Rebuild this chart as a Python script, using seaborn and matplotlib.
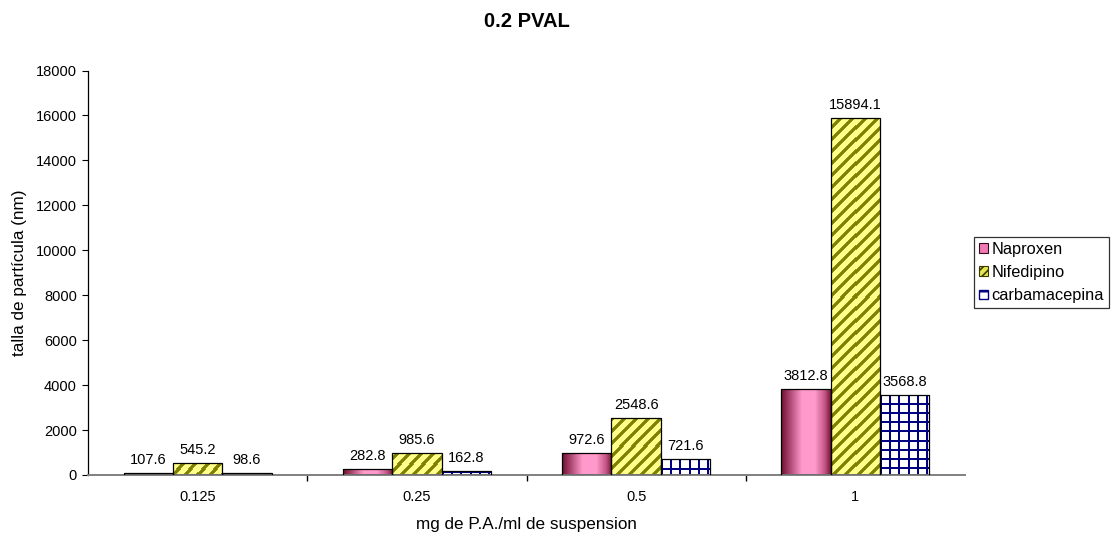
import numpy as np
import pandas as pd
import matplotlib
matplotlib.use("Agg")
import matplotlib.pyplot as plt
from matplotlib.patches import Rectangle
from matplotlib.colors import to_rgb
import seaborn as sns

# Particle size per concentration and drug
concentrations = ["0.125", "0.25", "0.5", "1"]
naproxen = [107.6, 282.8, 972.6, 3812.8]
nifedipino = [545.2, 985.6, 2548.6, 15894.1]
carbamacepina = [98.6, 162.8, 721.6, 3568.8]
series_names = ["Naproxen", "Nifedipino", "carbamacepina"]
y_ticks = [0, 2000, 4000, 6000, 8000, 10000, 12000, 14000, 16000, 18000]

df = pd.DataFrame({
    "conc": concentrations * 3,
    "size": naproxen + nifedipino + carbamacepina,
    "drug": [s for s in series_names for _ in concentrations],
})

sns.set_style("white")
plt.rcParams["font.family"] = ["Liberation Sans", "DejaVu Sans"]
plt.rcParams["hatch.linewidth"] = 1.2
for key in ["text.color", "axes.labelcolor", "xtick.color", "ytick.color"]:
    plt.rcParams[key] = "black"

W, H = 1115, 533
fig = plt.figure(figsize=(W / 100, H / 100), dpi=100)
ax = fig.add_axes([88 / W, 1 - 475 / H, 877 / W, 404.5 / H])

palette = {"Naproxen": "#FF99CC", "Nifedipino": "#FFFF99", "carbamacepina": "#FFFFFF"}
sns.barplot(data=df, x="conc", y="size", hue="drug", order=concentrations,
            hue_order=series_names, palette=palette, width=0.675,
            saturation=1, errorbar=None, legend=False, ax=ax, zorder=2)

ax.set_xlim(-0.5, 3.5)
ax.set_ylim(0, 18000)


def rgb(c):
    return np.array(to_rgb(c))


def cylinder(u):
    """Horizontal shading for the Naproxen bars (u runs 0..1 across the bar)."""
    stops = [0.0, 0.15, 0.42, 0.68, 0.88, 1.0]
    cols = [rgb(c) for c in ["#6A0E2E", "#A33C66", "#FF99CC", "#FF99CC", "#C25484", "#70142F"]]
    out = np.zeros(u.shape + (3,))
    for k in range(3):
        out[..., k] = np.interp(u, stops, [c[k] for c in cols])
    return out


def bar_pixels(p):
    bb = p.get_window_extent()
    x0, x1 = int(round(bb.x0)), int(round(bb.x1))
    y0, y1 = int(round(bb.y0)), int(round(bb.y1))
    return x0, max(x1, x0 + 1), y0, max(y1, y0 + 1)


olive, yellow, navy = rgb("#808000"), rgb("#FFFF8C"), rgb("#000080")
patches = [p for p in ax.patches if isinstance(p, Rectangle)]
n = len(concentrations)
values = naproxen + nifedipino + carbamacepina
for i, p in enumerate(patches[:3 * n]):
    s = i // n
    x0d, w, h = p.get_x(), p.get_width(), p.get_height()
    px0, px1, py0, py1 = bar_pixels(p)
    cols = np.arange(px0, px1) + 0.5
    rows = (H - np.arange(py1, py0, -1)) + 0.5  # image rows from the top
    X, R = np.meshgrid(cols, rows)
    if s == 0:
        tex = cylinder((X - px0) / max(px1 - px0, 1))
    elif s == 1:
        period = 12.0
        phase = ((X + R) % period) / period
        f = 0.5 + 0.5 * np.cos(2 * np.pi * phase)
        d = np.clip((f - 0.5) / 0.3, 0, 1)[..., None]
        tex = yellow * (1 - d) + olive * d
    else:
        period = 9
        gx = ((X - px0).astype(int) % period) < 2
        gy = ((py1 - (H - R)).astype(int) % period) < 2
        line = (gx | gy)[..., None]
        tex = np.where(line, navy, np.ones(3))
    p.set_facecolor("none")
    p.set_edgecolor("none")
    im = ax.imshow(tex, extent=(x0d, x0d + w, 0, h), aspect="auto",
                   interpolation="nearest", zorder=1.9)
    im.set_clip_path(p)
    ax.add_patch(Rectangle((x0d, 0), w, h, fill=False, edgecolor="black",
                           linewidth=0.9, zorder=3))
    ax.annotate(f"{values[i]:.1f}", xy=(x0d + w / 2, h), xytext=(0, 6.5),
                textcoords="offset points", ha="center", va="baseline",
                fontsize=10.5, color="black", zorder=4)

ax.set_xlim(-0.5, 3.5)
ax.set_ylim(0, 18000)

ax.set_yticks(y_ticks)
ax.set_yticklabels([str(t) for t in y_ticks], fontsize=10.5)
ax.tick_params(axis="y", direction="out", length=4, width=0.8, left=True, pad=4)
ax.tick_params(axis="x", which="major", length=0, labelsize=10.5, pad=11)
ax.set_xticks([0.5, 1.5, 2.5], minor=True)
ax.tick_params(axis="x", which="minor", direction="out", length=4.5, width=1.0,
               bottom=True, color="black")

for side in ["top", "right"]:
    ax.spines[side].set_visible(False)
ax.spines["left"].set_color("black")
ax.spines["left"].set_linewidth(0.9)
ax.spines["bottom"].set_color("#808080")
ax.spines["bottom"].set_linewidth(1.4)

ax.set_xlabel("mg de P.A./ml de suspension", fontsize=12.3, labelpad=9)
ax.set_ylabel("talla de partícula (nm)", fontsize=12.3, labelpad=6)
fig.text((88 + 965) / 2 / W, 1 - 27 / H, "0.2 PVAL", ha="center", va="baseline",
         fontsize=14.5, fontweight="bold")

# Legend swatches echoing the bar fills
handles = [
    Rectangle((0, 0), 1, 1, facecolor="#F07AB4", edgecolor="#3A0A1A", linewidth=0.8),
    Rectangle((0, 0), 1, 1, facecolor="#E6E650", edgecolor="#3A3A00", hatch="////",
              linewidth=0.8),
    Rectangle((0, 0), 1, 1, facecolor="white", edgecolor="#000080", hatch="-",
              linewidth=1.0),
]
leg = fig.legend(handles, series_names, loc="upper left",
                 bbox_to_anchor=(974 / W, 1 - 237 / H), frameon=True, fancybox=False,
                 edgecolor="black", fontsize=11.8, handlelength=0.55,
                 handleheight=0.55, handletextpad=0.2, borderpad=0.3,
                 labelspacing=0.5, borderaxespad=0)
leg.get_frame().set_linewidth(0.9)

fig.savefig("out.png", dpi=100)
